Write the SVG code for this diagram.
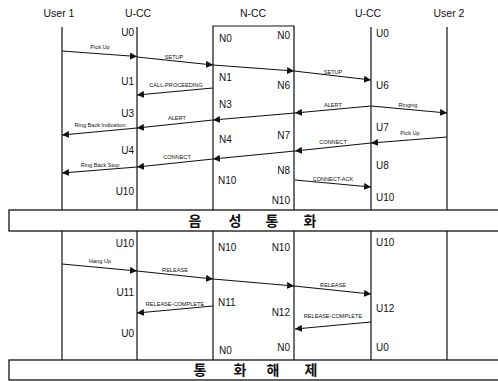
<svg xmlns="http://www.w3.org/2000/svg" width="498" height="381" viewBox="0 0 498 381">
<style>
.hdr{font-family:"Liberation Sans",Arial,sans-serif;font-size:10.5px;fill:#111;text-anchor:middle}
.st{font-family:"Liberation Sans",Arial,sans-serif;font-size:10px;fill:#111}
.e{text-anchor:end}
.lb{font-family:"Liberation Sans",Arial,sans-serif;font-size:5.6px;fill:#111;text-anchor:middle}
.ll{stroke:#111;stroke-width:1.2;fill:none}
.ar{stroke:#111;stroke-width:1.1;fill:none;marker-end:url(#ah)}
.band{fill:#fff;stroke:#111;stroke-width:1.3}
.kr{font-family:"Noto Sans CJK KR",sans-serif;font-size:14px;font-weight:bold;fill:#111;text-anchor:middle}
</style>
<defs>
<marker id="ah" viewBox="0 0 10 10" refX="10" refY="5" markerWidth="7" markerHeight="7" markerUnits="userSpaceOnUse" orient="auto">
<path d="M0,0 L10,5 L0,10 Z" fill="#111"/>
</marker>
</defs>
<rect width="498" height="381" fill="#fff"/>

<g id="user1">
<text class="hdr" x="59" y="17">User 1</text>
<line class="ll" x1="62" y1="27" x2="62" y2="210"/>
<line class="ll" x1="62" y1="231" x2="62" y2="360"/>
</g>

<g id="ucc-left">
<text class="hdr" x="138" y="17">U-CC</text>
<line class="ll" x1="137" y1="27" x2="137" y2="210"/>
<line class="ll" x1="137" y1="231" x2="137" y2="360"/>
<text class="st e" x="134" y="36">U0</text>
<text class="st e" x="134" y="85">U1</text>
<text class="st e" x="134" y="117">U3</text>
<text class="st e" x="134" y="154">U4</text>
<text class="st e" x="134" y="195">U10</text>
<text class="st e" x="134" y="247">U10</text>
<text class="st e" x="134" y="296">U11</text>
<text class="st e" x="134" y="337">U0</text>
</g>

<g id="ncc">
<text class="hdr" x="253" y="17">N-CC</text>
<path class="ll" d="M213,210 V26 H294 V210"/>
<line class="ll" x1="213" y1="231" x2="213" y2="360"/>
<line class="ll" x1="294" y1="231" x2="294" y2="360"/>
<text class="st" x="219" y="42">N0</text>
<text class="st" x="219" y="81">N1</text>
<text class="st" x="219" y="108">N3</text>
<text class="st" x="219" y="143">N4</text>
<text class="st" x="218" y="184">N10</text>
<text class="st" x="218" y="251">N10</text>
<text class="st" x="218" y="306">N11</text>
<text class="st" x="219" y="354">N0</text>
<text class="st e" x="290" y="39">N0</text>
<text class="st e" x="290" y="89">N6</text>
<text class="st e" x="290" y="139">N7</text>
<text class="st e" x="290" y="174">N8</text>
<text class="st e" x="290" y="204">N10</text>
<text class="st e" x="290" y="251">N10</text>
<text class="st e" x="290" y="316">N12</text>
<text class="st e" x="290" y="351">N0</text>
</g>

<g id="ucc-right">
<text class="hdr" x="368" y="17">U-CC</text>
<line class="ll" x1="371" y1="27" x2="371" y2="210"/>
<line class="ll" x1="371" y1="231" x2="371" y2="360"/>
<text class="st" x="376" y="37">U0</text>
<text class="st" x="376" y="89">U6</text>
<text class="st" x="376" y="131">U7</text>
<text class="st" x="376" y="169">U8</text>
<text class="st" x="376" y="201">U10</text>
<text class="st" x="376" y="246">U10</text>
<text class="st" x="376" y="312">U12</text>
<text class="st" x="376" y="351">U0</text>
</g>

<g id="user2">
<text class="hdr" x="449" y="17">User 2</text>
<line class="ll" x1="447" y1="27" x2="447" y2="210"/>
<line class="ll" x1="447" y1="231" x2="447" y2="360"/>
</g>

<g id="connectors">
<line class="ar" x1="62" y1="51" x2="137" y2="56.5"/>
<line class="ar" x1="137" y1="57" x2="213" y2="65"/>
<line class="ar" x1="213" y1="65" x2="294" y2="71"/>
<line class="ar" x1="294" y1="71" x2="371" y2="80"/>
<line class="ar" x1="213" y1="88" x2="137" y2="95"/>
<line class="ar" x1="371" y1="106" x2="295" y2="113"/>
<line class="ar" x1="295" y1="113" x2="213" y2="120"/>
<line class="ar" x1="213" y1="120" x2="137" y2="128"/>
<line class="ar" x1="137" y1="128" x2="62" y2="135"/>
<line class="ar" x1="371" y1="106" x2="447" y2="113"/>
<line class="ar" x1="447" y1="137" x2="371" y2="143"/>
<line class="ar" x1="371" y1="143" x2="295" y2="151"/>
<line class="ar" x1="295" y1="151" x2="213" y2="159"/>
<line class="ar" x1="213" y1="159" x2="137" y2="167"/>
<line class="ar" x1="137" y1="167" x2="62" y2="173"/>
<line class="ar" x1="295" y1="180" x2="371" y2="187"/>
<line class="ar" x1="62" y1="264" x2="137" y2="271"/>
<line class="ar" x1="137" y1="271" x2="213" y2="279"/>
<line class="ar" x1="213" y1="279" x2="294" y2="286"/>
<line class="ar" x1="294" y1="286" x2="371" y2="294"/>
<line class="ar" x1="213" y1="306" x2="137" y2="313"/>
<line class="ar" x1="371" y1="322" x2="295" y2="329"/>
<text class="lb" x="100" y="49">Pick Up</text>
<text class="lb" x="174" y="59">SETUP</text>
<text class="lb" x="176" y="87">CALL-PROCEEDING</text>
<text class="lb" x="333" y="74">SETUP</text>
<text class="lb" x="333" y="107">ALERT</text>
<text class="lb" x="408" y="107">Ringing</text>
<text class="lb" x="177" y="120">ALERT</text>
<text class="lb" x="100" y="127">Ring Back Indication</text>
<text class="lb" x="410" y="135">Pick Up</text>
<text class="lb" x="333" y="144">CONNECT</text>
<text class="lb" x="177" y="159">CONNECT</text>
<text class="lb" x="100" y="167">Ring Back Stop</text>
<text class="lb" x="333" y="181">CONNECT-ACK</text>
<text class="lb" x="100" y="263">Hang Up</text>
<text class="lb" x="175" y="272">RELEASE</text>
<text class="lb" x="333" y="287">RELEASE</text>
<text class="lb" x="175" y="306">RELEASE-COMPLETE</text>
<text class="lb" x="333" y="318">RELEASE-COMPLETE</text>
</g>

<g id="band-voice">
<rect class="band" x="9" y="210" width="495" height="21"/>
<text class="kr" x="195" y="226">음</text>
<text class="kr" x="235" y="226">성</text>
<text class="kr" x="272" y="226">통</text>
<text class="kr" x="310" y="226">화</text>
</g>

<g id="band-release">
<rect class="band" x="9" y="360" width="495" height="20"/>
<text class="kr" x="200" y="375">통</text>
<text class="kr" x="240" y="375">화</text>
<text class="kr" x="273" y="375">해</text>
<text class="kr" x="311" y="375">제</text>
</g>
</svg>
